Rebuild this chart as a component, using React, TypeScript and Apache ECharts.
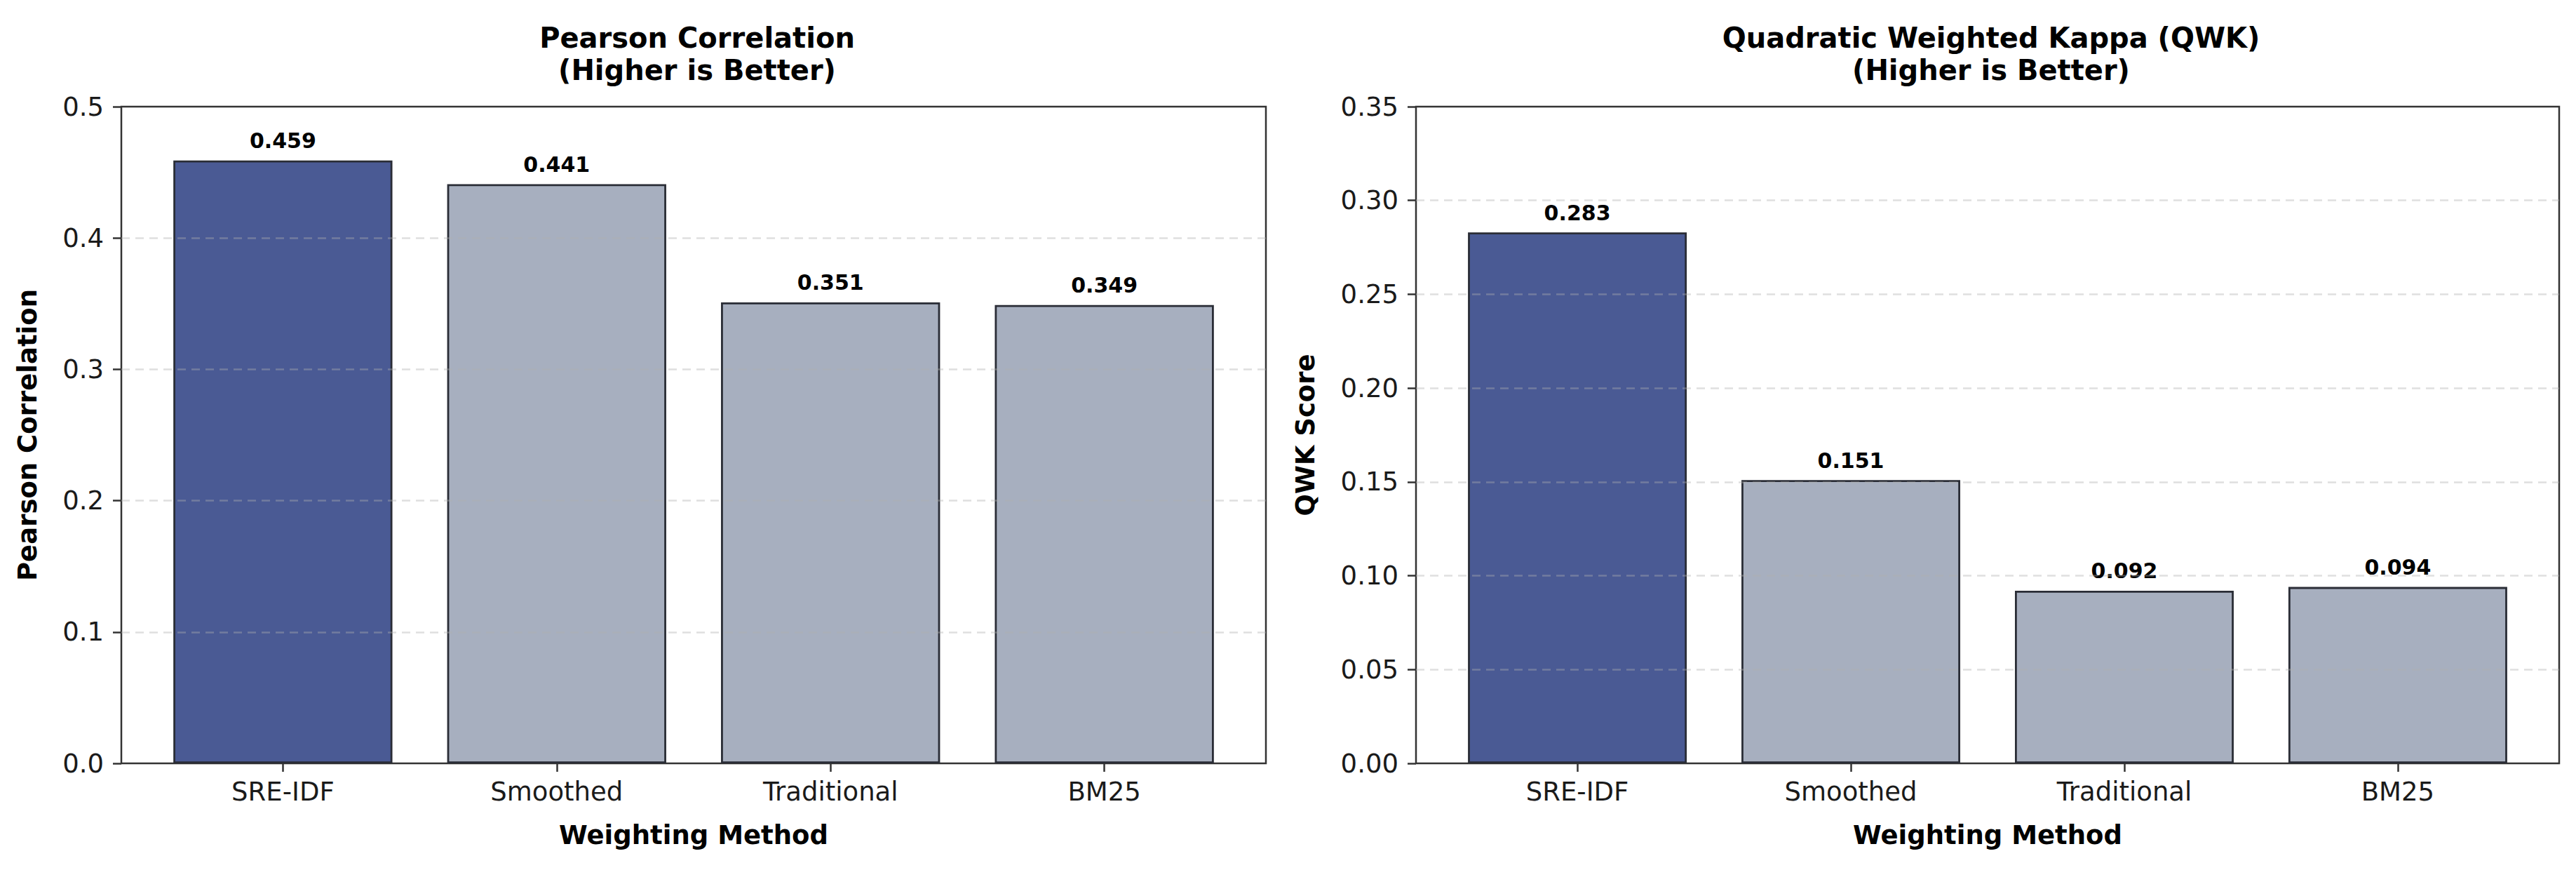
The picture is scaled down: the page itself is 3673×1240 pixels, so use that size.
import React, { useEffect, useRef } from "react";
import * as echarts from "echarts";

const categories = ["SRE-IDF", "Smoothed", "Traditional", "BM25"];
const pearsonValues = [0.459, 0.441, 0.351, 0.349];
const qwkValues = [0.283, 0.151, 0.092, 0.094];
const pearsonTicks = { min: 0, max: 0.5, interval: 0.1, digits: 1 };
const qwkTicks = { min: 0, max: 0.35, interval: 0.05, digits: 2 };
const highlightIndex = 0;

const FONT = "DejaVu Sans";
const HIGHLIGHT = "#4a5a94";
const BASE = "#a7afbf";
const EDGE = "#2a2d36";
const SPINE = "#333333";

const GRID_TOP = 152;
const GRID_H = 936;
const GRIDS = [
  { left: 173, width: 1632 },
  { left: 2019, width: 1630 },
];

export default function App() {
  const ref = useRef<HTMLDivElement>(null);

  useEffect(() => {
    document.body.style.margin = "0";
    if (!ref.current) return;
    const chart = echarts.init(ref.current, undefined, { renderer: "svg" });

    const panels = [
      { values: pearsonValues, ticks: pearsonTicks, yName: "Pearson Correlation", title: "Pearson Correlation\n(Higher is Better)", nameGap: 115 },
      { values: qwkValues, ticks: qwkTicks, yName: "QWK Score", title: "Quadratic Weighted Kappa (QWK)\n(Higher is Better)", nameGap: 139 },
    ];

    const option: any = {
      animation: false,
      backgroundColor: "#ffffff",
      title: panels.map((p, i) => ({
        text: p.title,
        left: GRIDS[i].left + GRIDS[i].width / 2,
        top: 26,
        textAlign: "center",
        textStyle: {
          fontFamily: FONT,
          fontWeight: "bold",
          fontSize: 40,
          lineHeight: 46,
          color: "#000",
        },
      })),
      grid: GRIDS.map((g) => ({
        left: g.left,
        top: GRID_TOP,
        width: g.width,
        height: GRID_H,
        show: true,
        borderColor: SPINE,
        borderWidth: 2.5,
        backgroundColor: "transparent",
        containLabel: false,
      })),
      xAxis: panels.map((_, i) => ({
        type: "value",
        gridIndex: i,
        position: "bottom",
        min: -0.59,
        max: categories.length - 1 + 0.59,
        name: "Weighting Method",
        nameLocation: "middle",
        nameGap: 84,
        nameTextStyle: { fontFamily: FONT, fontWeight: "bold", fontSize: 37, color: "#000" },
        axisLine: { show: false, onZero: false },
        splitLine: { show: false },
        axisTick: {
          show: true,
          customValues: categories.map((_, k) => k),
          length: 12,
          lineStyle: { color: SPINE, width: 2.5 },
        },
        axisLabel: {
          show: true,
          customValues: categories.map((_, k) => k),
          formatter: (v: number) => categories[Math.round(v)] ?? "",
          margin: 22,
          fontFamily: FONT,
          fontSize: 37,
          color: "#1a1a1a",
        },
      })),
      yAxis: panels.map((p, i) => ({
        type: "value",
        gridIndex: i,
        position: "left",
        min: p.ticks.min,
        max: p.ticks.max,
        interval: p.ticks.interval,
        z: 3,
        name: p.yName,
        nameLocation: "middle",
        nameGap: p.nameGap,
        nameTextStyle: { fontFamily: FONT, fontWeight: "bold", fontSize: 37, color: "#000" },
        axisLine: { show: false, onZero: false },
        axisTick: { show: true, length: 12, lineStyle: { color: SPINE, width: 2.5 } },
        axisLabel: {
          formatter: (v: number) => v.toFixed(p.ticks.digits),
          margin: 25,
          fontFamily: FONT,
          fontSize: 37,
          color: "#1a1a1a",
        },
        splitLine: {
          show: true,
          showMinLine: false,
          showMaxLine: false,
          lineStyle: { color: "rgba(176,176,176,0.4)", width: 2.5, type: [12, 8] },
        },
      })),
      series: panels.map((p, i) => ({
        type: "bar",
        xAxisIndex: i,
        yAxisIndex: i,
        barWidth: "80%",
        data: p.values.map((v, k) => ({
          value: [k, v],
          itemStyle: { color: k === highlightIndex ? HIGHLIGHT : BASE },
        })),
        itemStyle: { borderColor: EDGE, borderWidth: 2.8 },
        label: {
          show: true,
          position: "top",
          distance: 13,
          formatter: (d: any) => d.value[1].toFixed(3),
          fontFamily: FONT,
          fontWeight: "bold",
          fontSize: 30,
          color: "#000",
        },
      })),
    };

    chart.setOption(option);
    return () => chart.dispose();
  }, []);

  return <div ref={ref} style={{ width: 3673, height: 1240 }} />;
}
